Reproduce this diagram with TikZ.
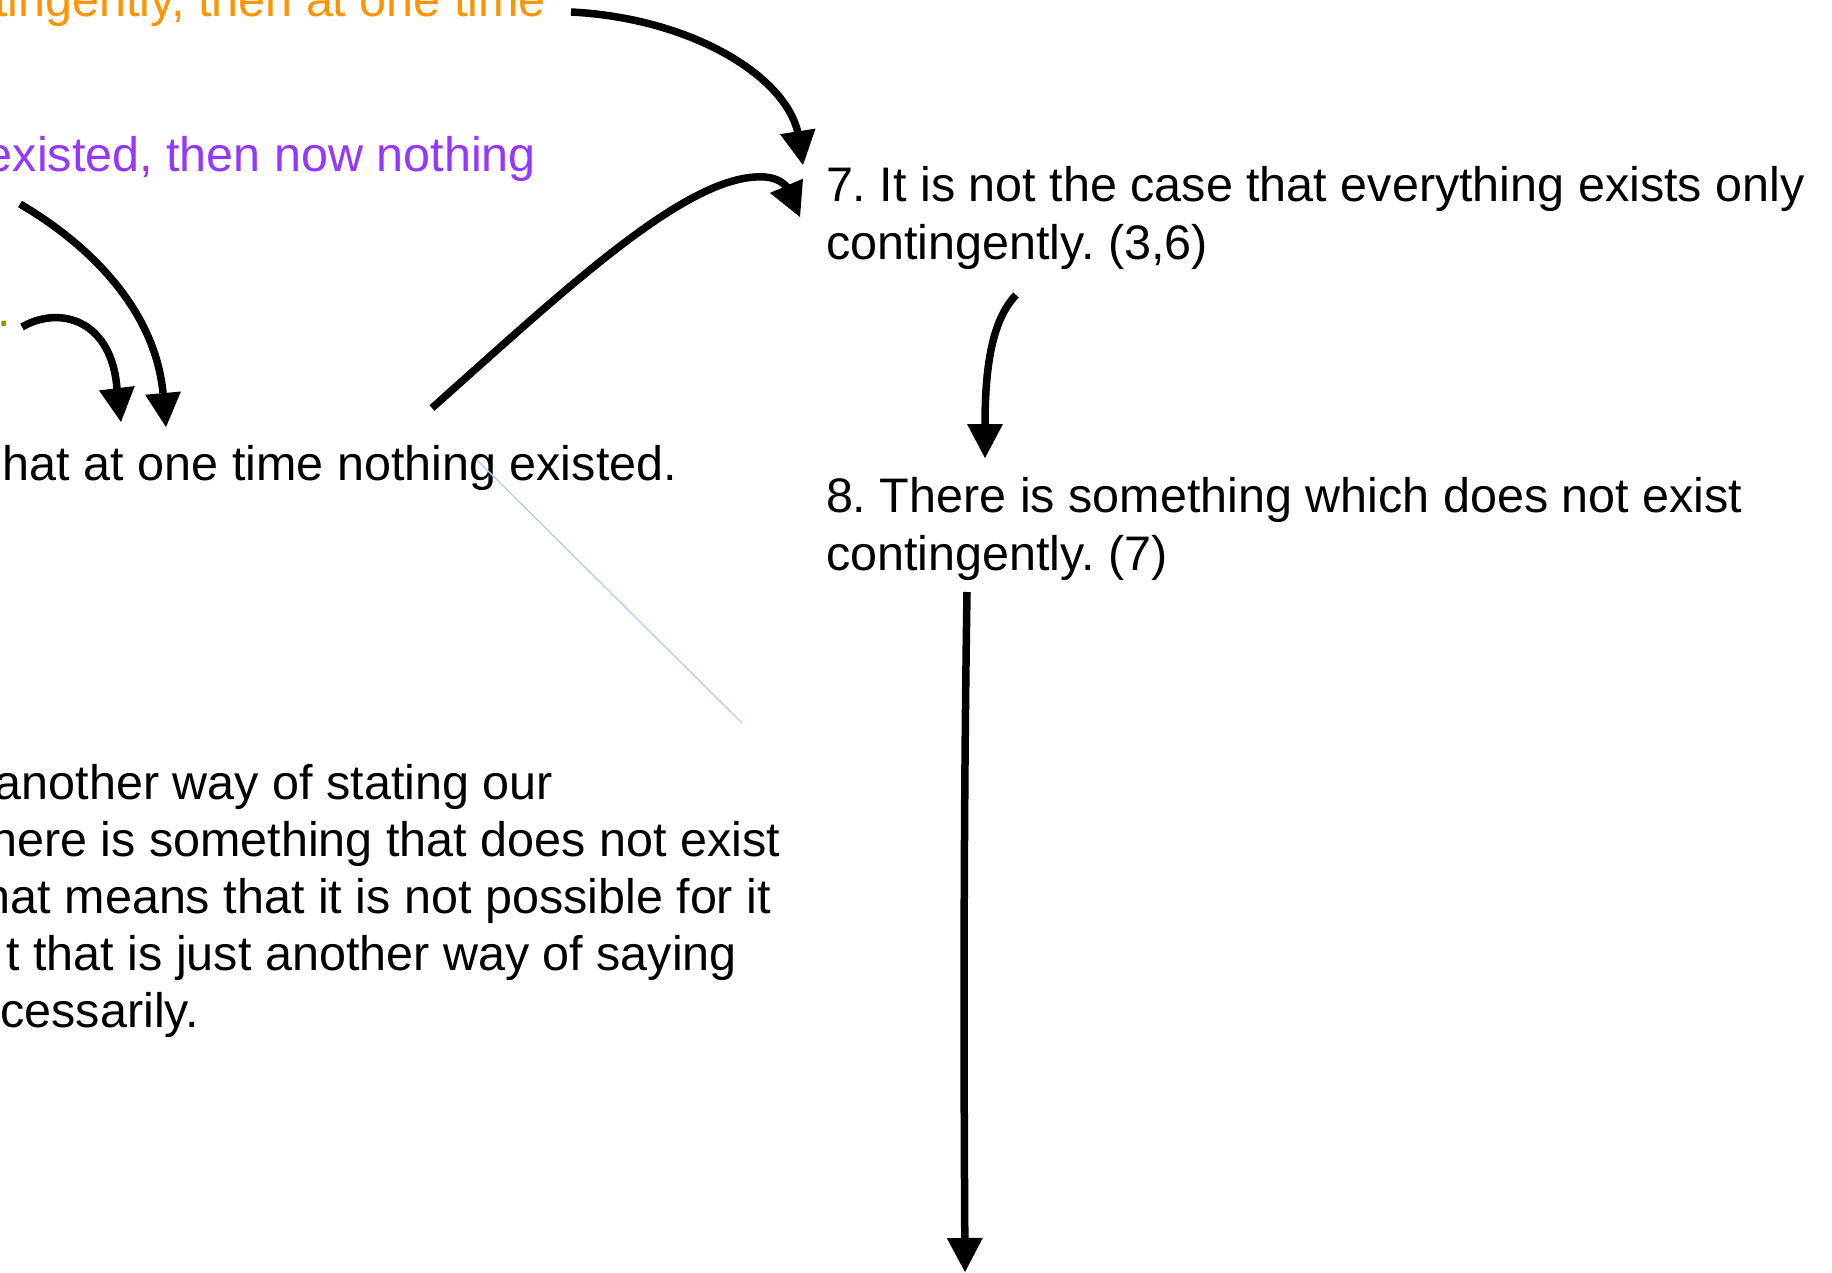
\documentclass[tikz,border=0pt]{standalone}
\usepackage{fontspec}
\setmainfont{Liberation Sans}
\usetikzlibrary{arrows.meta}
\definecolor{orng}{RGB}{255,147,0}
\definecolor{purp}{RGB}{148,55,255}
\definecolor{olv}{RGB}{146,144,0}
\definecolor{ltblue}{RGB}{182,204,242}
\frenchspacing
\begin{document}
\begin{tikzpicture}[x=1pt,y=-1pt,
  txt/.style={inner sep=0pt,outer sep=0pt,font=\fontsize{48.5}{58}\selectfont\frenchspacing},
  lt/.style={txt,anchor=base east},
  rt/.style={txt,anchor=base west},
  arr/.style={line width=7.5pt,-{Triangle[length=34pt,width=36pt,line width=0pt]}}]
\useasboundingbox (0,0) rectangle (1832,1273);
\clip (0,0) rectangle (1832,1273);
\fill[white] (0,0) rectangle (1832,1273);

% left texts (cut by the left/top edge)
\node[lt,text=orng] (or) at (546,17) {tingently, then at one time};
\node[lt,text=purp] (pu) at (536,172) {existed, then now nothing};
\node[lt,text=olv] (ol) at (11,327) {.};
\node[lt] (bl) at (677,480) {hat at one time nothing existed.};
\node[lt] (p1) at (553,799) {another way of stating our};
\node[lt] (p2) at (780,856) {here is something that does not exist};
\node[lt] (p3) at (771,913) {hat means that it is not possible for it};
\node[lt] (p4) at (737,970) {t that is just another way of saying};
\node[lt] (p5) at (199,1027) {cessarily.};

% right texts
\node[rt] (n7a) at (826,202) {7. It is not the case that everything exists only};
\node[rt] (n7b) at (826,260) {contingently. (3,6)};
\node[rt] (n8a) at (826,512) {8. There is something which does not exist};
\node[rt] (n8b) at (826,570) {contingently. (7)};

\coordinate (bot) at (965,1272);
\coordinate (blueend) at (742,723);

% connectors
\draw[arr] ([shift={(25,-5)}]or.base east) .. controls (690,18) and (785,75) ..
  ([shift={(-28,-69)}]n7a.base west) -- ([shift={(-23,-37)}]n7a.base west);
\draw[arr] ([shift={(-245,-72)}]bl.base east) .. controls (570,285) and (690,172) ..
  ([shift={(-61,-25)}]n7a.base west) .. controls (778,178) and (784,184) ..
  ([shift={(-39,-15)}]n7a.base west) -- ([shift={(-26,15)}]n7a.base west);
\draw[arr] ([shift={(-516,32)}]pu.base east) .. controls (90,245) and (155,310) ..
  ([shift={(-514,-87)}]bl.base east) -- ([shift={(-511,-53)}]bl.base east);
\draw[arr] ([shift={(11,0)}]ol.base east) .. controls (60,305) and (112,320) ..
  ([shift={(-560,-91)}]bl.base east) -- ([shift={(-556,-58)}]bl.base east);
\draw[arr] ([shift={(190,35)}]n7b.base west) .. controls (994,318) and (985,360) ..
  ([shift={(159,-87)}]n8a.base west) -- ([shift={(159,-54)}]n8a.base west);
\draw[arr] ([shift={(141,22)}]n8b.base west) .. controls (963,850) and (964,1100) .. (bot);

\draw[ltblue,line width=1.3pt] ([shift={(-200,-20)}]bl.base east) -- (blueend);
\end{tikzpicture}
\end{document}
